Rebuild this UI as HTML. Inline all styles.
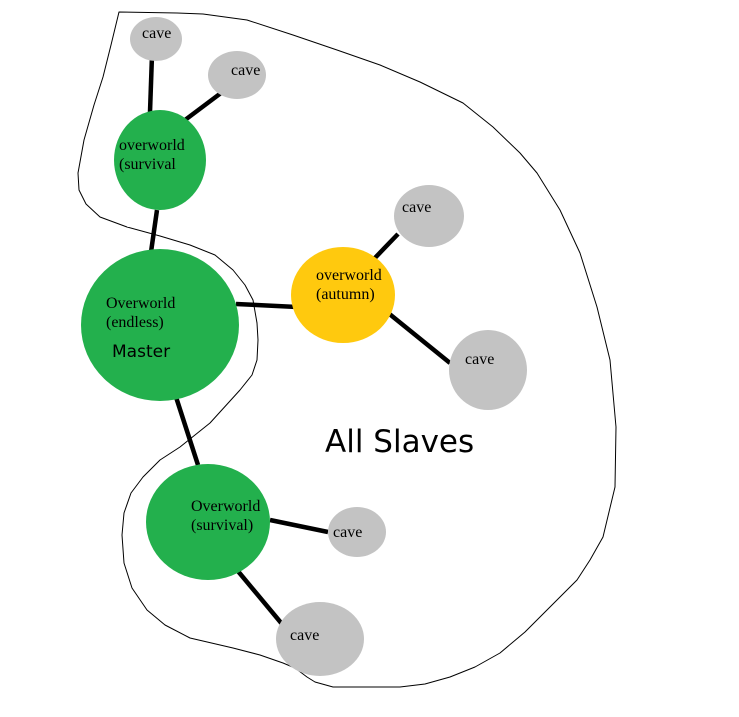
<!DOCTYPE html>
<html><head><style>
html,body{margin:0;padding:0;background:#fff;}
svg{display:block;}
.s{font-family:"Liberation Serif",serif;font-size:16px;fill:#000;}
</style></head><body>
<svg width="739" height="717" viewBox="0 0 739 717">
<polygon points="119,12 177,13 203,14 247,20 293,35 337,50 380,65 420,82 463,103 493,127 520,153 537,173 560,210 580,253 597,307 610,360 616,427 615,487 603,537 590,560 577,580 547,610 525,632 500,653 475,667 450,677 425,684 400,687 333,687 315,682 307,677 295,668 283,663 260,655 233,648 190,638 165,625 147,610 132,588 124,563 122,535 124,513 131,493 143,477 160,460 180,447 210,423 240,390 252,375 257,360 258,340 257,323 253,300 245,285 233,270 215,255 190,245 160,236 127,227 100,217 86,204 79,190 78,173 84,140 94,105 103,77 111,45" fill="none" stroke="#000" stroke-width="1" stroke-linejoin="round"/>
<g stroke="#000" stroke-width="4.5" stroke-linecap="butt">
<line x1="152" y1="55" x2="150" y2="112"/>
<line x1="221" y1="93" x2="185" y2="120"/>
<line x1="157" y1="210" x2="151" y2="252"/>
<line x1="236" y1="304" x2="297" y2="307"/>
<line x1="373" y1="260" x2="398" y2="234"/>
<line x1="387" y1="312" x2="450" y2="363"/>
<line x1="176" y1="397" x2="198" y2="465"/>
<line x1="270" y1="520" x2="328" y2="532"/>
<line x1="237" y1="570" x2="282" y2="624"/>
</g>
<g fill="#c3c3c3">
<ellipse cx="156" cy="39" rx="26" ry="22"/>
<ellipse cx="237" cy="75" rx="29" ry="24"/>
<ellipse cx="429" cy="216" rx="35" ry="31"/>
<ellipse cx="488" cy="370" rx="39" ry="40"/>
<ellipse cx="357" cy="532" rx="29" ry="25"/>
<ellipse cx="320" cy="639" rx="44" ry="37"/>
</g>
<ellipse cx="160" cy="160" rx="46" ry="50" fill="#23b04d"/>
<ellipse cx="160" cy="325" rx="79" ry="76" fill="#23b04d"/>
<ellipse cx="343" cy="295" rx="52" ry="48" fill="#ffc90e"/>
<ellipse cx="208" cy="522" rx="62" ry="58" fill="#23b04d"/>
<text class="s" x="142" y="38">cave</text>
<text class="s" x="231" y="75">cave</text>
<text class="s" x="402" y="212">cave</text>
<text class="s" x="465" y="364">cave</text>
<text class="s" x="333" y="537">cave</text>
<text class="s" x="290" y="640">cave</text>
<text class="s" x="119" y="150">overworld</text>
<text class="s" x="119" y="169">(survival</text>
<text class="s" x="316" y="280">overworld</text>
<text class="s" x="316" y="299">(autumn)</text>
<text class="s" x="106" y="308">Overworld</text>
<text class="s" x="106" y="327">(endless)</text>
<text x="112" y="357" font-family="DejaVu Sans,sans-serif" font-size="17">Master</text>
<text class="s" x="191" y="511">Overworld</text>
<text class="s" x="191" y="530">(survival)</text>
<text x="325" y="452" font-family="DejaVu Sans,sans-serif" font-size="31">All Slaves</text>
</svg>
</body></html>
